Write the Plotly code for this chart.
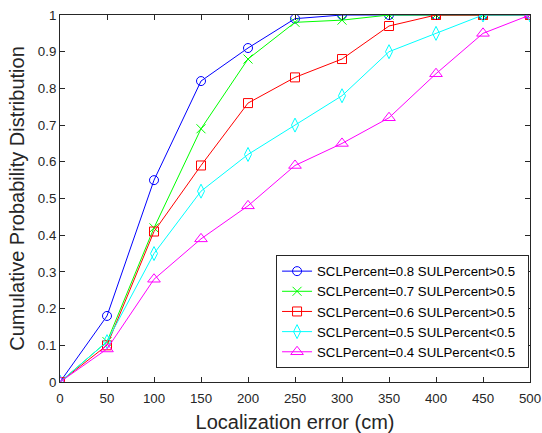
import plotly.graph_objects as go

# Localization error thresholds (cm)
error_cm = [0, 50, 100, 150, 200, 250, 300, 350, 400, 450, 500]

cdf_scl08 = [0, 0.18, 0.55, 0.82, 0.91, 0.99, 1.0, 1.0, 1.0, 1.0, 1.0]
cdf_scl07 = [0, 0.11, 0.42, 0.69, 0.88, 0.98, 0.986, 1.0, 1.0, 1.0, 1.0]
cdf_scl06 = [0, 0.10, 0.41, 0.59, 0.76, 0.83, 0.88, 0.97, 1.0, 1.0, 1.0]
cdf_scl05 = [0, 0.11, 0.35, 0.52, 0.62, 0.70, 0.78, 0.90, 0.95, 1.0, 1.0]
cdf_scl04 = [0, 0.09, 0.28, 0.39, 0.48, 0.59, 0.65, 0.72, 0.84, 0.95, 1.0]

series_names = [
    "SCLPercent=0.8 SULPercent>0.5",
    "SCLPercent=0.7 SULPercent>0.5",
    "SCLPercent=0.6 SULPercent>0.5",
    "SCLPercent=0.5 SULPercent<0.5",
    "SCLPercent=0.4 SULPercent<0.5",
]
series_values = [cdf_scl08, cdf_scl07, cdf_scl06, cdf_scl05, cdf_scl04]
series_colors = ["#0000ff", "#00ff00", "#ff0000", "#00ffff", "#ff00ff"]
series_symbols = ["circle-open", "x-thin-open", "square-open", "diamond-tall-open", "triangle-up-open"]
series_sizes = [9, 9, 9, 10, 11]

fig = go.Figure()
for name, vals, col, sym, sz in zip(series_names, series_values, series_colors, series_symbols, series_sizes):
    fig.add_trace(go.Scatter(
        x=error_cm, y=vals, name=name + "\u00a0\u00a0", mode="lines+markers",
        line=dict(color=col, width=1),
        marker=dict(symbol=sym, size=sz, color=col, line=dict(color=col, width=1)),
    ))

axis_common = dict(
    showgrid=False, zeroline=False, showline=True, linecolor="#262626", linewidth=1,
    mirror="ticks", ticks="inside", ticklen=5, tickcolor="#262626", tickwidth=1,
    automargin=False,
    tickfont=dict(family="Liberation Sans, Arial, sans-serif", size=13.3, color="#262626"),
)

fig.update_layout(
    width=542, height=433,
    margin=dict(l=60, r=12, t=15, b=51),
    paper_bgcolor="white", plot_bgcolor="white",
    font=dict(family="Liberation Sans, Arial, sans-serif", color="#262626"),
    xaxis=dict(range=[0, 500], tickvals=error_cm, ticktext=[str(v) for v in error_cm],
               ticklabelstandoff=4,
               title=dict(text="Localization error (cm)", font=dict(size=20), standoff=10),
               **axis_common),
    yaxis=dict(range=[0, 1], tickvals=[i / 10 for i in range(11)],
               ticktext=["0", "0.1", "0.2", "0.3", "0.4", "0.5", "0.6", "0.7", "0.8", "0.9", "1"],
               title=dict(text="Cumulative Probability Distribution", font=dict(size=20), standoff=7),
               **axis_common),
    legend=dict(
        x=0.998, y=0.038, xanchor="right", yanchor="bottom",
        bgcolor="white", bordercolor="#262626", borderwidth=1,
        font=dict(size=13.2, color="#000000"), tracegroupgap=0, itemwidth=30,
    ),
    showlegend=True,
)

fig.write_html("out.html")
